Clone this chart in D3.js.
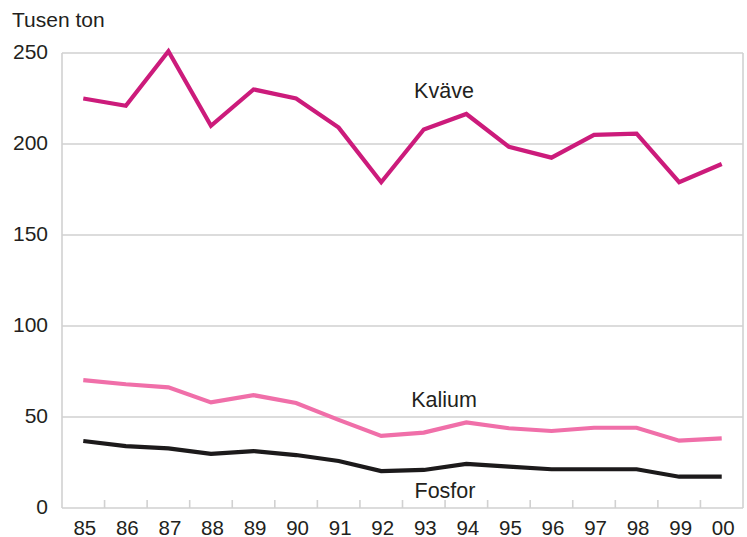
<!DOCTYPE html>
<html lang="sv">
<head>
    <meta charset="UTF-8">
    <title>Tusen ton</title>
    <style>
        * {
            margin: 0;
            padding: 0;
        }

        body {
            background: #ffffff;
        }

        #container {
            width: 747px;
            height: 537px;
        }

        text {
            font-family: "Liberation Sans", Arial, sans-serif;
            fill: #231f20;
        }
    </style>
</head>
<body>

<div id="container"></div>

<script src="https://cdn.jsdelivr.net/npm/d3@7/dist/d3.min.js"></script>

<script>
    "use strict";

    var years = ['85', '86', '87', '88', '89', '90', '91', '92', '93', '94', '95', '96', '97', '98', '99', '00'];

    var kvave = [225, 221, 251, 210, 230, 225, 209, 179, 208, 216.5, 198.5, 192.5, 205, 205.7, 179, 189];

    var kalium = [70.3, 68, 66.3, 58, 62, 57.7, 48.4, 39.6, 41.4, 47, 43.8, 42.3, 44.1, 44.1, 37, 38.3];

    var fosfor = [36.8, 34, 32.8, 29.7, 31.3, 29.1, 25.8, 20.3, 20.9, 24.2, 22.7, 21.3, 21.3, 21.3, 17.2, 17.2];

    var yTicks = [0, 50, 100, 150, 200, 250];

    (function () {

        var config = {
            width: 747,
            height: 537,
            margin: {
                top: 53,
                left: 62,
                right: 4,
                bottom: 29
            }
        };

        var innerW = config.width - config.margin.left - config.margin.right;
        var innerH = config.height - config.margin.top - config.margin.bottom;

        var svg = d3.select('#container')
            .append('svg')
            .attr('width', config.width)
            .attr('height', config.height);

        var group = svg.append('g')
            .attr('transform', `translate(${config.margin.left}, ${config.margin.top})`);

        var x = d3.scaleBand()
            .domain(years)
            .range([0, innerW]);

        var y = d3.scaleLinear()
            .domain([0, 250])
            .range([innerH, 0]);

        var grid = '#d1d1d1';

        // horizontal grid lines
        group.selectAll('line.grid')
            .data(yTicks)
            .enter()
            .append('line')
            .attr('class', 'grid')
            .attr('x1', 0)
            .attr('x2', innerW)
            .attr('y1', function (d) { return y(d); })
            .attr('y2', function (d) { return y(d); })
            .attr('stroke', grid)
            .attr('stroke-width', 1.6);

        // left axis and right frame
        [0, innerW].forEach(function (px) {
            group.append('line')
                .attr('x1', px)
                .attr('x2', px)
                .attr('y1', y(250))
                .attr('y2', y(0))
                .attr('stroke', grid)
                .attr('stroke-width', 1.6);
        });

        // small ticks between years
        group.selectAll('line.tick')
            .data(years.slice(1))
            .enter()
            .append('line')
            .attr('class', 'tick')
            .attr('x1', function (d) { return x(d); })
            .attr('x2', function (d) { return x(d); })
            .attr('y1', y(0))
            .attr('y2', y(0) - 8)
            .attr('stroke', grid)
            .attr('stroke-width', 1.6);

        // y labels
        group.selectAll('text.ylab')
            .data(yTicks)
            .enter()
            .append('text')
            .attr('class', 'ylab')
            .attr('x', -14)
            .attr('y', function (d) { return y(d) - 1.5; })
            .attr('dy', '0.35em')
            .attr('text-anchor', 'end')
            .style('font-size', '21px')
            .text(function (d) { return d; });

        // x labels
        group.selectAll('text.xlab')
            .data(years)
            .enter()
            .append('text')
            .attr('class', 'xlab')
            .attr('x', function (d) { return x(d) + x.bandwidth() / 2 + 1.5; })
            .attr('y', innerH + 26.5)
            .attr('text-anchor', 'middle')
            .style('font-size', '20.5px')
            .text(function (d) { return d; });

        svg.append('text')
            .attr('x', 12)
            .attr('y', 27)
            .style('font-size', '21px')
            .text('Tusen ton');

        var line = d3.line()
            .x(function (d, i) { return x(years[i]) + x.bandwidth() / 2; })
            .y(function (d) { return y(d); });

        var series = [
            { name: 'Kväve', values: kvave, color: '#cc1b7b', lx: 444, ly: 98 },
            { name: 'Kalium', values: kalium, color: '#f06fa9', lx: 444, ly: 407 },
            { name: 'Fosfor', values: fosfor, color: '#1c1a1b', lx: 445, ly: 498 }
        ];

        series.forEach(function (s) {
            group.append('path')
                .datum(s.values)
                .attr('d', line)
                .attr('fill', 'none')
                .attr('stroke', s.color)
                .attr('stroke-width', 4.2)
                .attr('stroke-linejoin', 'miter');

            svg.append('text')
                .attr('x', s.lx)
                .attr('y', s.ly)
                .attr('text-anchor', 'middle')
                .style('font-size', '21.5px')
                .text(s.name);
        });

    })();
</script>
</body>
</html>
